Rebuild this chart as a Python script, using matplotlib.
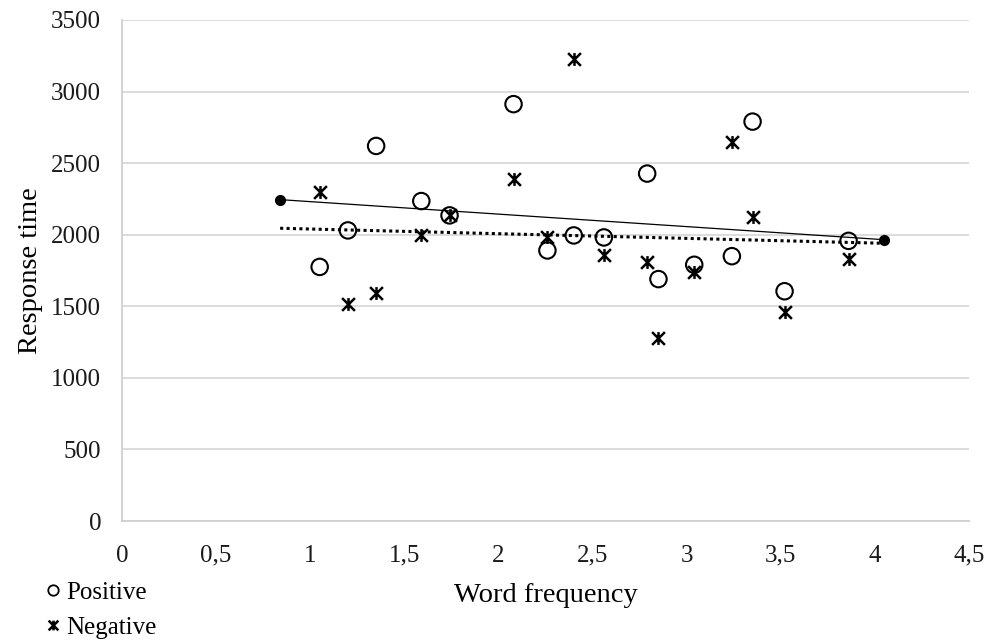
import matplotlib
matplotlib.use('Agg')
import matplotlib.pyplot as plt
from matplotlib.path import Path
from matplotlib.lines import Line2D
from matplotlib.ticker import MultipleLocator, FuncFormatter

# Word frequency (same items for both valences)
word_freq = [1.05, 1.20, 1.35, 1.59, 1.74, 2.08, 2.26, 2.40,
             2.56, 2.79, 2.85, 3.04, 3.24, 3.35, 3.52, 3.86]

rt_positive = [1775, 2030, 2620, 2235, 2135, 2912, 1890, 1995,
               1981, 2427, 1690, 1790, 1850, 2790, 1605, 1957]

rt_negative = [2298, 1517, 1595, 1995, 2135, 2392, 1983, 3225,
               1855, 1808, 1275, 1740, 2648, 2125, 1458, 1830]

# two fitted lines (end points)
fit_x = [0.84, 4.05]
fit_solid = [2245, 1965]
fit_dotted = [2045, 1940]

plt.rcParams['font.family'] = ['Liberation Serif', 'DejaVu Serif']

# Excel-like star marker: an X with a vertical bar
star = Path([(0, -1), (0, 1), (-1, -1), (1, 1), (-1, 1), (1, -1)],
            [Path.MOVETO, Path.LINETO] * 3)

fig = plt.figure(figsize=(9.89, 6.4), dpi=100)
ax = fig.add_axes([0.1234, 0.1859, 0.8564, 0.7829])

ax.plot(fit_x, fit_solid, color='black', lw=0.9, marker='o', ms=7, zorder=2)
ax.plot(fit_x, fit_dotted, color='black', lw=2.2, linestyle=(0, (1, 1.1)), zorder=2)

ax.scatter(word_freq, rt_positive, s=140, facecolors='none', edgecolors='black',
           linewidths=1.5, marker='o', zorder=3)
ax.scatter(word_freq, rt_negative, s=85, color='black', linewidths=1.8,
           marker=star, zorder=3)

ax.set_xlim(0, 4.5)
ax.set_ylim(0, 3500)
ax.xaxis.set_major_locator(MultipleLocator(0.5))
ax.yaxis.set_major_locator(MultipleLocator(500))
ax.xaxis.set_major_formatter(FuncFormatter(lambda v, p: ('%g' % v).replace('.', ',')))
ax.grid(axis='y', color='#d9d9d9', lw=1.3)
ax.set_axisbelow(True)
for s in ['top', 'right']:
    ax.spines[s].set_visible(False)
for s in ['left', 'bottom']:
    ax.spines[s].set_color('#d0d0d0')
    ax.spines[s].set_linewidth(1.3)
ax.tick_params(length=0, labelsize=18, colors='#1a1a1a')
ax.tick_params(axis='x', pad=17)
ax.tick_params(axis='y', pad=15)

ax.set_xlabel('Word frequency', fontsize=20.5, labelpad=12)
ax.set_ylabel('Response time', fontsize=20.5, labelpad=6)

handles = [
    Line2D([], [], ls='none', marker='o', ms=7.5, mfc='none', mec='black', mew=1.3),
    Line2D([], [], ls='none', marker=star, ms=7, color='black', mew=1.8),
]
fig.legend(handles, ['Positive', 'Negative'], loc='upper left',
           bbox_to_anchor=(0.027, 0.111), frameon=False, fontsize=18,
           handletextpad=0.0, handlelength=1.1, labelspacing=0.5, borderpad=0)

fig.savefig('out.png', dpi=100)
